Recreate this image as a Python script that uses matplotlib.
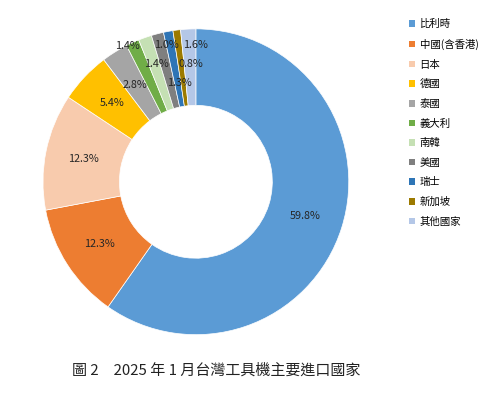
import matplotlib.pyplot as plt
import numpy as np

plt.rcParams['font.family'] = ['Noto Sans CJK TC', 'DejaVu Sans']

countries = ["比利時", "中國(含香港)", "日本", "德國", "泰國", "義大利",
             "南韓", "美國", "瑞士", "新加坡", "其他國家"]
shares = [59.8, 12.3, 12.3, 5.4, 2.8, 1.4, 1.4, 1.3, 1.0, 0.8, 1.6]
colors = ["#5B9BD5", "#ED7D31", "#F8CBAD", "#FFC000", "#A5A5A5", "#70AD47",
          "#C5E0B4", "#7F7F7F", "#2E75B6", "#9C7A00", "#B4C7E7"]

# crowded small slices: label positions in pie units (Excel-style stacking)
label_override = {
    5: (-0.45, 0.89),
    6: (-0.255, 0.77),
    7: (-0.11, 0.647),
    8: (-0.19, 0.895),
    9: (-0.033, 0.77),
    10: (0.0, 0.895),
}

fig = plt.figure(figsize=(4.94, 3.93), dpi=100)
ax = fig.add_axes([0.087, 0.148, 0.619, 0.779])

wedges, _ = ax.pie(shares, colors=colors, startangle=90, counterclock=False,
                   radius=1.0, wedgeprops=dict(width=0.5, edgecolor="white", linewidth=0.5))

for i, w in enumerate(wedges):
    if i in label_override:
        x, y = label_override[i]
    else:
        ang = np.deg2rad((w.theta1 + w.theta2) / 2)
        x, y = 0.75 * np.cos(ang), 0.75 * np.sin(ang)
    ax.text(x, y, f"{shares[i]:.1f}%", ha="center", va="center",
            fontsize=7.8, color="#262626")

ax.set_xlim(-1, 1)
ax.set_ylim(-1, 1)
ax.set_aspect("equal")

handles = [plt.Rectangle((0, 0), 1, 1, facecolor=c) for c in colors]
fig.legend(handles, countries, loc="upper left", bbox_to_anchor=(0.82, 0.962),
           frameon=False, fontsize=7.5, handlelength=0.6, handleheight=0.6,
           handletextpad=0.4, labelspacing=0.92, borderaxespad=0)

fig.text(0.145, 0.058, "圖 2　2025 年 1 月台灣工具機主要進口國家",
         fontsize=10.8, ha="left", va="center", color="#222222")

fig.savefig("out.png", dpi=100)
